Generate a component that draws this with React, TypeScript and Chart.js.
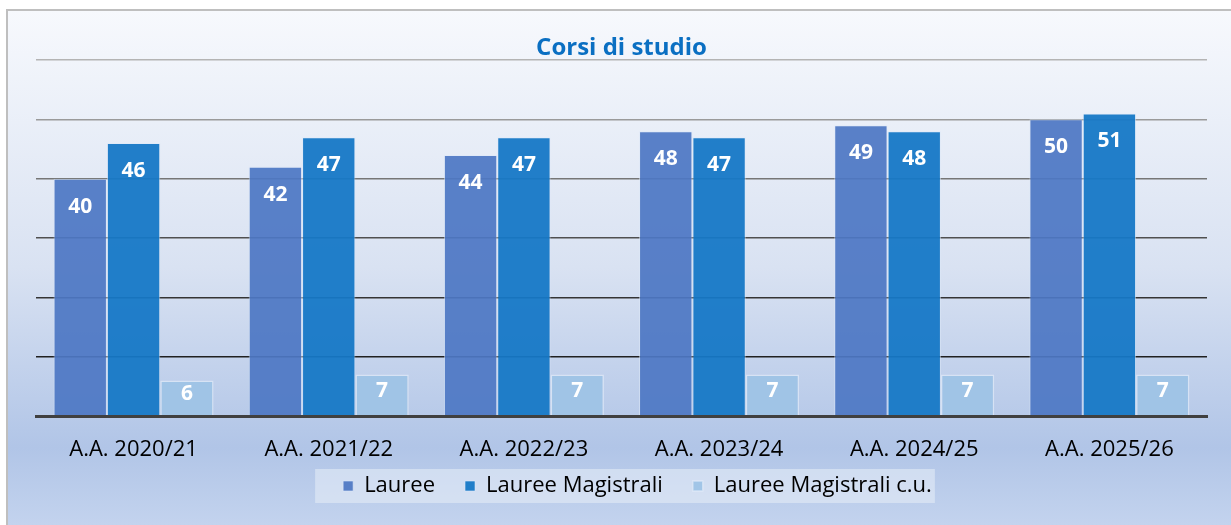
import { useEffect, useRef } from "react";
import { Chart, registerables } from "chart.js";

Chart.register(...registerables);

const categories = ["A.A. 2020/21", "A.A. 2021/22", "A.A. 2022/23", "A.A. 2023/24", "A.A. 2024/25", "A.A. 2025/26"];
const seriesNames = ["Lauree", "Lauree Magistrali", "Lauree Magistrali c.u."];
const lauree = [40, 42, 44, 48, 49, 50];
const laureeMagistrali = [46, 47, 47, 47, 48, 51];
const laureeMagistraliCU = [6, 7, 7, 7, 7, 7];
const yMax = 60;
const yStep = 10;
const chartTitle = "Corsi di studio";

const FONT = "'Open Sans', 'Noto Sans', sans-serif";

const gridColors: Record<number, string> = {
  0: "rgba(0,0,0,0)",
  10: "#202020",
  20: "#343434",
  30: "#505050",
  40: "#767676",
  50: "#9a9a9a",
  60: "#b4b4b4",
};

const backgroundPlugin = {
  id: "bgPlugin",
  afterLayout(chart: any) {
    const lg = chart.legend;
    if (lg) {
      lg.top -= 18;
      lg.bottom -= 18;
      lg.left += 16;
      lg.right += 16;
    }
  },
  beforeDraw(chart: any) {
    const ctx = chart.ctx;
    const w = chart.width;
    const h = chart.height;
    ctx.save();
    ctx.fillStyle = "#ffffff";
    ctx.fillRect(0, 0, w, h);
    const g = ctx.createLinearGradient(0, 10, 0, h);
    g.addColorStop(0, "#f7f9fd");
    g.addColorStop(0.5, "#d9e2f2");
    g.addColorStop(0.85, "#b1c5e7");
    g.addColorStop(1, "#c3d3ee");
    ctx.fillStyle = g;
    ctx.fillRect(7, 10, w, h);
    ctx.strokeStyle = "#bfbfbf";
    ctx.lineWidth = 2;
    ctx.beginPath();
    ctx.moveTo(7, h + 2);
    ctx.lineTo(7, 10);
    ctx.lineTo(w + 2, 10);
    ctx.stroke();
    const hb = chart.legend && chart.legend.legendHitBoxes;
    if (hb && hb.length) {
      const first = hb[0];
      const last = hb[hb.length - 1];
      const x0 = first.left - 28;
      const x1 = last.left + last.width + 3;
      const y0 = first.top - 6;
      const y1 = first.top + first.height + 6;
      ctx.fillStyle = "rgba(232,238,248,0.55)";
      ctx.fillRect(x0, y0, x1 - x0, y1 - y0);
    }
    ctx.restore();
  },
};

const labelPlugin = {
  id: "barLabels",
  afterDatasetsDraw(chart: any) {
    const ctx = chart.ctx;
    ctx.save();
    ctx.fillStyle = "#ffffff";
    ctx.font = "bold 21px " + FONT;
    ctx.textAlign = "center";
    ctx.textBaseline = "middle";
    chart.data.datasets.forEach((ds: any, di: number) => {
      const meta = chart.getDatasetMeta(di);
      meta.data.forEach((bar: any, i: number) => {
        const top = bar.y;
        const bottom = bar.base;
        const cy = Math.min(top + 28, top + (bottom - top) * 0.4);
        ctx.fillText(String(ds.data[i]), bar.x, cy);
      });
    });
    ctx.restore();
  },
};

export default function App() {
  const ref = useRef<HTMLCanvasElement | null>(null);
  useEffect(() => {
    if (!ref.current) return;
    const chart = new Chart(ref.current, {
      type: "bar",
      data: {
        labels: categories,
        datasets: [
          {
            label: seriesNames[0],
            data: lauree,
            backgroundColor: "rgba(78,119,196,0.93)",
            borderColor: "rgba(220,232,248,0.6)",
            borderWidth: 1,
          },
          {
            label: seriesNames[1],
            data: laureeMagistrali,
            backgroundColor: "rgba(22,120,198,0.95)",
            borderColor: "rgba(220,232,248,0.6)",
            borderWidth: 1,
          },
          {
            label: seriesNames[2],
            data: laureeMagistraliCU,
            backgroundColor: "rgba(158,195,230,0.95)",
            borderColor: "rgba(225,235,248,0.7)",
            borderWidth: 1.5,
          },
        ],
      },
      options: {
        animation: false,
        responsive: true,
        maintainAspectRatio: false,
        layout: { padding: { left: 36, right: 24, top: 0, bottom: 0 } },
        datasets: {
          bar: { categoryPercentage: 0.82, barPercentage: 1.0 },
        },
        plugins: {
          title: {
            display: true,
            text: chartTitle,
            color: "#0a6fc2",
            font: { family: FONT, size: 24, weight: "bold" },
            padding: { top: 33.6, bottom: -2.4 },
          },
          legend: {
            position: "bottom",
            labels: {
              color: "#000000",
              font: { family: FONT, size: 22 },
              boxWidth: 10,
              boxHeight: 10,
              padding: 30,
            },
          },
          tooltip: { enabled: false },
        },
        scales: {
          x: {
            grid: { display: false, drawTicks: false },
            border: { display: true, color: "#404040", width: 3, z: 1 },
            ticks: {
              color: "#000000",
              font: { family: FONT, size: 22 },
              padding: 21,
            },
            afterFit: (scale: any) => {
              scale.height = 47;
            },
          },
          y: {
            min: 0,
            max: yMax,
            ticks: { display: false, stepSize: yStep },
            border: { display: false },
            grid: {
              drawTicks: false,
              lineWidth: 1.5,
              color: (c: any) => gridColors[c.tick ? c.tick.value : 0] || "#888888",
            },
          },
        },
      },
      plugins: [backgroundPlugin, labelPlugin],
    });
    return () => chart.destroy();
  }, []);
  return (
    <div style={{ position: "fixed", left: 0, top: 0, width: 1231, height: 525 }}>
      <canvas ref={ref} />
    </div>
  );
}
